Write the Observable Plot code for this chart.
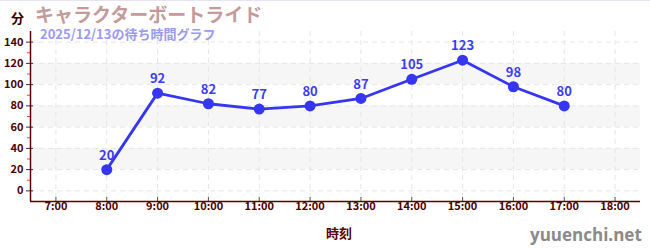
<!DOCTYPE html>
<html><head><meta charset="utf-8">
<script src="https://cdn.jsdelivr.net/npm/d3@7"></script>
<script src="https://cdn.jsdelivr.net/npm/@observablehq/plot@0.6"></script>
<style>
body{margin:0;background:#fff;font-family:"Noto Sans CJK JP","Noto Sans",sans-serif;}
#wrap{position:relative;width:650px;height:250px;border-top:1px solid #e4e4f4;box-sizing:border-box;}
.t{position:absolute;white-space:nowrap;font-weight:bold;line-height:1;}
</style></head>
<body><div id="wrap">
<div class="t" style="left:35px;top:3px;font-size:19px;color:#c49a9a;">キャラクターボートライド</div>
<div class="t" style="left:40px;top:26px;font-size:13px;color:#9a9af0;">2025/12/13の待ち時間グラフ</div>
<div class="t" style="left:11px;top:10px;font-size:13px;color:#3a0000;">分</div>
<div class="t" style="left:326px;top:225px;font-size:13px;color:#5a0000;">時刻</div>
<div class="t" style="left:530px;top:225px;font-size:17px;color:#8a8a8a;font-family:'Open Sans','DejaVu Sans',sans-serif;">yuuenchi.net</div>
</div>
<script>
const hours = [8, 9, 10, 11, 12, 13, 14, 15, 16, 17];
const waits = [20, 92, 82, 77, 80, 87, 105, 123, 98, 80];
const xTicks = [7, 8, 9, 10, 11, 12, 13, 14, 15, 16, 17, 18];
const yTicks = [0, 20, 40, 60, 80, 100, 120, 140];
const yMinor = [10, 30, 50, 70, 90, 110, 130];
const bands = [[20, 40], [60, 80], [100, 120]];

const data = hours.map((h, i) => ({h, w: waits[i]}));
const bandData = bands.map(([a, b]) => ({a, b}));
const dark = "#4a0000";

const chart = Plot.plot({
  width: 650, height: 250,
  marginLeft: 30, marginRight: 10, marginTop: 30, marginBottom: 50,
  style: {fontFamily: "'Noto Sans CJK JP','Noto Sans',sans-serif", fontSize: "11px", background: "transparent", overflow: "visible"},
  x: {domain: [6.5, 18.5]},
  y: {domain: [-10, 150]},
  marks: [
    Plot.rectY(bandData, {x1: 6.5, x2: 18.5, y1: "a", y2: "b", fill: "#f6f6f6"}),
    Plot.ruleX(xTicks, {stroke: "#e6e6e6", strokeDasharray: "5,4"}),
    Plot.ruleY(yTicks, {stroke: "#e6e6e6", strokeDasharray: "5,4"}),
    Plot.axisY(yMinor, {tickSize: 3, tickFormat: () => "", stroke: "#ee4444"}),
    Plot.axisY(yTicks, {tickSize: 4, tickPadding: 3, fill: dark, fontWeight: "bold", fontSize: 11, stroke: "#333", label: null}),
    Plot.axisY(yTicks, {anchor: "left", tickSize: -3, tickFormat: () => "", stroke: "#333", label: null}),
    Plot.axisX(xTicks, {tickSize: -4, tickPadding: 5, tickFormat: d => `${d}:00`, fill: dark, fontWeight: "bold", fontSize: 11, stroke: "#555", label: null}),
    Plot.ruleY([-10], {stroke: "#5a0000", strokeWidth: 1.5}),
    Plot.ruleX([6.5], {stroke: "#5a0000", strokeWidth: 1.5}),
    Plot.line(data, {x: "h", y: "w", stroke: "#3636f2", strokeWidth: 2.8}),
    Plot.dot(data, {x: "h", y: "w", r: 5.5, fill: "#3636f2"}),
    Plot.text(data, {x: "h", y: "w", text: d => String(d.w), dy: -14, fill: "#3c3cf0", fontWeight: "bold", fontSize: 13})
  ]
});
chart.style.position = "absolute";
chart.style.left = "0px";
chart.style.top = "0px";
chart.style.zIndex = "0";
document.getElementById("wrap").prepend(chart);
</script>
</body></html>
